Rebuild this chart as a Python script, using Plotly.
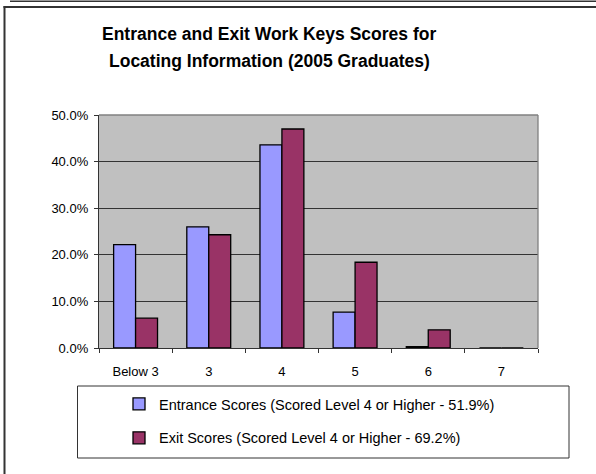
import plotly.graph_objects as go

categories = ["Below 3", "3", "4", "5", "6", "7"]
entrance = [0.222, 0.260, 0.436, 0.077, 0.003, 0.0]
exit_scores = [0.064, 0.243, 0.470, 0.184, 0.039, 0.0]
series_names = [
    "Entrance Scores (Scored Level 4 or Higher - 51.9%)",
    "Exit Scores (Scored Level 4 or Higher - 69.2%)",
]
title_lines = ["Entrance and Exit Work Keys Scores for", "Locating Information (2005 Graduates)"]

FONT = "Liberation Sans, Arial, sans-serif"
W, H = 596, 474
L, R, T, B = 99, 58, 115, 126
pw, ph = W - L - R, H - T - B

def px(x):
    return (x - L) / pw

def py(y):
    return (H - B - y) / ph

fig = go.Figure()
fig.add_trace(go.Bar(x=categories, y=entrance, name=series_names[0], legendgroup="a",
                     marker=dict(color="#9999FF", line=dict(color="black", width=1.3))))
fig.add_trace(go.Bar(x=categories, y=exit_scores, name=series_names[1], legendgroup="b",
                     marker=dict(color="#993366", line=dict(color="black", width=1.3))))

shapes = [
    # plot border top/right
    dict(type="line", xref="paper", yref="paper", x0=0, x1=1, y0=1, y1=1, line=dict(color="#808080", width=1.3)),
    dict(type="line", xref="paper", yref="paper", x0=1, x1=1, y0=0, y1=1, line=dict(color="#808080", width=1.3)),
    # legend box
    dict(type="rect", xref="paper", yref="paper", x0=px(77.5), x1=px(569), y0=py(386), y1=py(458),
         line=dict(color="#333333", width=1), fillcolor="rgba(0,0,0,0)"),
    # outer frame
    dict(type="line", xref="paper", yref="paper", x0=px(10), x1=px(600), y0=py(1.2), y1=py(1.2), line=dict(color="#333333", width=1.5)),
    dict(type="line", xref="paper", yref="paper", x0=px(3.5), x1=px(600), y0=py(7), y1=py(7), line=dict(color="#333333", width=2)),
    dict(type="line", xref="paper", yref="paper", x0=px(4.5), x1=px(4.5), y0=py(6), y1=py(480), line=dict(color="#333333", width=2)),
]

annotations = [
    dict(text="<b>" + title_lines[0] + "</b>", x=px(269), y=py(34), xref="paper", yref="paper",
         showarrow=False, xanchor="center", yanchor="middle", font=dict(family=FONT, size=17.5, color="black")),
    dict(text="<b>" + title_lines[1] + "</b>", x=px(269), y=py(61), xref="paper", yref="paper",
         showarrow=False, xanchor="center", yanchor="middle", font=dict(family=FONT, size=17.5, color="black")),
]

fig.update_layout(
    width=W, height=H,
    margin=dict(l=L, r=R, t=T, b=B, pad=0),
    paper_bgcolor="white", plot_bgcolor="#C0C0C0",
    barmode="group", bargap=0.4, bargroupgap=0,
    font=dict(family=FONT, size=13, color="black"),
    showlegend=True,
    legend=dict(x=px(119), y=py(388), xanchor="left", yanchor="top", orientation="v",
                bgcolor="rgba(0,0,0,0)", borderwidth=0, tracegroupgap=12,
                font=dict(family=FONT, size=14.5, color="black")),
    shapes=shapes, annotations=annotations,
    xaxis=dict(showline=True, linecolor="#333333", linewidth=1.3, ticks="outside", tickson="boundaries",
               ticklen=4, tickcolor="#333333", showgrid=False, ticklabelstandoff=11,
               tickfont=dict(family=FONT, size=13)),
    yaxis=dict(range=[0, 0.5], dtick=0.1, tickformat=".1%", showline=True, linecolor="#333333",
               linewidth=1.3, ticks="outside", ticklen=4, tickcolor="#333333", showgrid=True,
               gridcolor="#333333", gridwidth=1, zeroline=False, ticklabelstandoff=3,
               tickfont=dict(family=FONT, size=13)),
)

fig.write_html("out.html", config={"displayModeBar": False},
               post_script="document.body.style.margin='0';document.body.style.overflow='hidden';")
